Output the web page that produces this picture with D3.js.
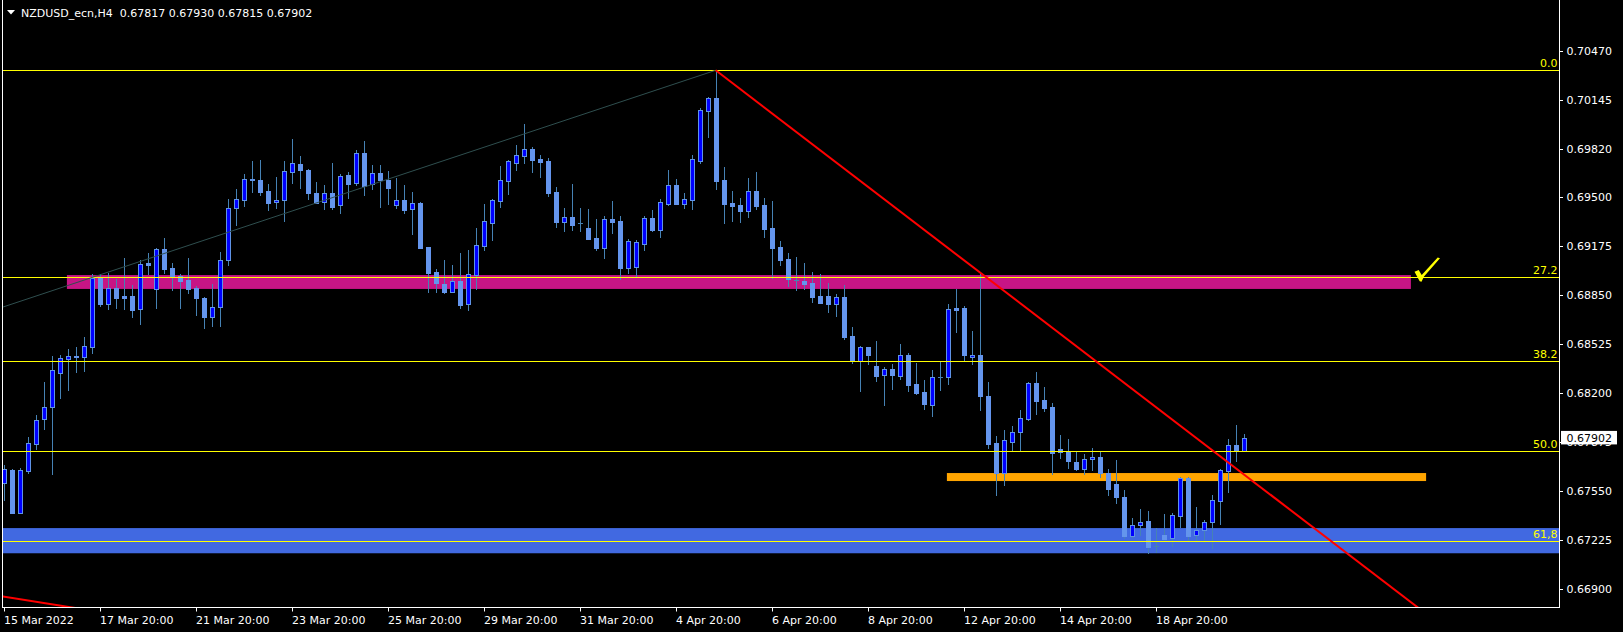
<!DOCTYPE html>
<html><head><meta charset="utf-8">
<script src="https://cdn.jsdelivr.net/npm/d3@7"></script>
<style>html,body{margin:0;padding:0;background:#000;overflow:hidden}svg{display:block}</style>
</head><body>
<svg id="c" width="1623" height="632"></svg>
<script>
// ---------------- DATA ----------------
const symbolTitle = "NZDUSD_ecn,H4";
const lastOHLC = ["0.67817", "0.67930", "0.67815", "0.67902"];
const currentPrice = 0.67902;

const opens = [0.67600,0.67689,0.67406,0.67684,0.67859,0.68025,0.68105,0.68334,0.68427,0.68443,
0.68441,0.68507,0.68960,0.68788,0.68894,0.68843,0.68843,0.68754,0.69060,0.68887,
0.69155,0.69029,0.68976,0.68949,0.68894,0.68830,0.68706,0.68768,0.69080,0.69429,
0.69482,0.69612,0.69612,0.69539,0.69464,0.69478,0.69668,0.69719,0.69679,0.69526,
0.69464,0.69526,0.69444,0.69646,0.69590,0.69791,0.69584,0.69659,0.69615,0.69449,
0.69480,0.69418,0.69460,0.69168,0.69002,0.68923,0.68872,0.68942,0.68788,0.68985,
0.69177,0.69329,0.69475,0.69608,0.69727,0.69771,0.69818,0.69752,0.69738,0.69533,
0.69334,0.69367,0.69325,0.69294,0.69228,0.69164,0.69354,0.69340,0.69031,0.69038,
0.69190,0.69360,0.69283,0.69455,0.69579,0.69455,0.69482,0.69741,0.70072,0.70156,
0.69612,0.69460,0.69447,0.69409,0.69539,0.69447,0.69294,0.69168,0.69088,0.68949,
0.68942,0.68929,0.68843,0.68843,0.68792,0.68836,0.68578,0.68410,0.68505,0.68379,
0.68322,0.68359,0.68315,0.68454,0.68259,0.68206,0.68122,0.68306,0.68308,0.68763,
0.68763,0.68441,0.68454,0.68180,0.67868,0.67667,0.67877,0.67939,0.68030,0.68266,
0.68153,0.68107,0.67826,0.67808,0.67742,0.67693,0.67760,0.67775,0.67671,0.67596,
0.67510,0.67254,0.67322,0.67351,0.67187,0.67258,0.67238,0.67386,0.67634,0.67256,
0.67291,0.67346,0.67486,0.67685,0.67853,0.67817];
const highs = [0.67722,0.67695,0.67702,0.67908,0.68054,0.68273,0.68445,0.68452,0.68491,0.68505,
0.68571,0.68987,0.68987,0.68996,0.68954,0.69095,0.68916,0.69080,0.69126,0.69161,
0.69228,0.69060,0.68989,0.69095,0.68909,0.68834,0.68923,0.69135,0.69486,0.69553,
0.69652,0.69738,0.69745,0.69586,0.69632,0.69738,0.69884,0.69772,0.69685,0.69599,
0.69577,0.69725,0.69652,0.69666,0.69811,0.69871,0.69712,0.69712,0.69672,0.69628,
0.69579,0.69533,0.69466,0.69168,0.69020,0.69082,0.69049,0.69128,0.69148,0.69294,
0.69453,0.69484,0.69705,0.69745,0.69845,0.69984,0.69831,0.69778,0.69756,0.69566,
0.69427,0.69586,0.69427,0.69420,0.69354,0.69374,0.69473,0.69374,0.69221,0.69214,
0.69374,0.69413,0.69486,0.69679,0.69619,0.69526,0.69778,0.70090,0.70163,0.70340,
0.69696,0.69539,0.69493,0.69626,0.69665,0.69493,0.69473,0.69208,0.69128,0.69102,
0.69062,0.69002,0.68989,0.68929,0.68856,0.68916,0.68637,0.68514,0.68505,0.68545,
0.68372,0.68392,0.68525,0.68465,0.68399,0.68286,0.68352,0.68407,0.68790,0.68889,
0.68777,0.68611,0.69002,0.68273,0.67915,0.67954,0.67981,0.68087,0.68273,0.68339,
0.68240,0.68133,0.67921,0.67895,0.67808,0.67795,0.67835,0.67808,0.67696,0.67755,
0.67556,0.67371,0.67430,0.67417,0.67302,0.67397,0.67404,0.67640,0.67640,0.67444,
0.67357,0.67523,0.67696,0.67895,0.67988,0.67930];
const lows = [0.67490,0.67401,0.67401,0.67667,0.67828,0.67963,0.67665,0.68169,0.68222,0.68341,
0.68348,0.68467,0.68779,0.68759,0.68766,0.68757,0.68706,0.68659,0.68989,0.68766,
0.68996,0.68885,0.68766,0.68865,0.68719,0.68633,0.68646,0.68646,0.69051,0.69314,
0.69442,0.69535,0.69513,0.69413,0.69429,0.69343,0.69595,0.69562,0.69486,0.69458,
0.69422,0.69418,0.69396,0.69495,0.69579,0.69515,0.69555,0.69436,0.69455,0.69429,
0.69396,0.69254,0.69160,0.68872,0.68872,0.68865,0.68867,0.68766,0.68752,0.68892,
0.69150,0.69214,0.69436,0.69522,0.69679,0.69725,0.69665,0.69632,0.69506,0.69301,
0.69274,0.69283,0.69274,0.69221,0.69148,0.69097,0.69261,0.68954,0.68998,0.68971,
0.69150,0.69274,0.69237,0.69447,0.69455,0.69427,0.69420,0.69727,0.69900,0.69555,
0.69327,0.69340,0.69334,0.69369,0.69422,0.69234,0.68965,0.69049,0.68911,0.68883,
0.68892,0.68805,0.68799,0.68739,0.68713,0.68560,0.68401,0.68215,0.68395,0.68281,
0.68122,0.68228,0.68295,0.68215,0.68195,0.68096,0.68049,0.68222,0.68262,0.68606,
0.68414,0.68395,0.68089,0.67837,0.67525,0.67592,0.67822,0.67824,0.68021,0.68063,
0.68083,0.67665,0.67771,0.67705,0.67691,0.67665,0.67691,0.67645,0.67523,0.67472,
0.67240,0.67247,0.67258,0.67139,0.67147,0.67225,0.67187,0.67313,0.67218,0.67214,
0.67214,0.67174,0.67333,0.67545,0.67749,0.67815];
const closes = [0.67693,0.67406,0.67689,0.67866,0.68018,0.68105,0.68350,0.68430,0.68443,0.68441,
0.68509,0.68960,0.68792,0.68894,0.68832,0.68832,0.68750,0.69053,0.69051,0.69153,
0.69024,0.68971,0.68945,0.68892,0.68832,0.68706,0.68768,0.69080,0.69425,0.69484,
0.69617,0.69617,0.69535,0.69462,0.69478,0.69672,0.69723,0.69681,0.69528,0.69462,
0.69524,0.69436,0.69637,0.69588,0.69789,0.69573,0.69657,0.69612,0.69562,0.69480,
0.69413,0.69460,0.69164,0.68996,0.68931,0.68869,0.68942,0.68783,0.68987,0.69179,
0.69338,0.69477,0.69612,0.69738,0.69778,0.69816,0.69745,0.69732,0.69526,0.69334,
0.69367,0.69314,0.69325,0.69221,0.69161,0.69354,0.69334,0.69029,0.69208,0.69201,
0.69360,0.69281,0.69466,0.69579,0.69455,0.69486,0.69752,0.70077,0.70156,0.69608,
0.69455,0.69440,0.69407,0.69539,0.69440,0.69287,0.69161,0.69082,0.68954,0.68947,
0.68925,0.68839,0.68799,0.68792,0.68836,0.68573,0.68410,0.68505,0.68454,0.68315,
0.68359,0.68322,0.68454,0.68255,0.68202,0.68129,0.68306,0.68308,0.68757,0.68752,
0.68454,0.68454,0.68182,0.67864,0.67667,0.67886,0.67939,0.68032,0.68266,0.68149,
0.68102,0.67804,0.67806,0.67751,0.67698,0.67762,0.67773,0.67667,0.67565,0.67510,
0.67251,0.67322,0.67344,0.67178,0.67187,0.67231,0.67388,0.67634,0.67251,0.67289,
0.67342,0.67488,0.67687,0.67853,0.67815,0.67902];

const timeTickBars = [0, 12, 24, 36, 48, 60, 72, 84, 96, 108, 120, 132, 144];
const timeTickLabels = ["15 Mar 2022", "17 Mar 20:00", "21 Mar 20:00", "23 Mar 20:00", "25 Mar 20:00",
  "29 Mar 20:00", "31 Mar 20:00", "4 Apr 20:00", "6 Apr 20:00", "8 Apr 20:00",
  "12 Apr 20:00", "14 Apr 20:00", "18 Apr 20:00"];
const priceTicks = [0.70470, 0.70145, 0.69820, 0.69500, 0.69175, 0.68850, 0.68525,
  0.68200, 0.67875, 0.67550, 0.67225, 0.66900];

const fibHigh = 0.70340, fibLow = 0.65290;
const fibRatios = [0, 0.272, 0.382, 0.5, 0.618];
const fibLabels = ["0.0", "27.2", "38.2", "50.0", "61,8"];

// zones: [barFrom, barTo, priceTop, priceBottom]
const blueZone = [-2, 200, 0.67304, 0.67137];
const magentaZone = [7.9, 175.9, 0.68982, 0.68890];
const orangeZone = [117.9, 177.8, 0.67669, 0.67616];

// trend lines: [bar, price] pairs
const redTrend = [[89, 0.70340], [177, 0.66768]];
const redTrendOld = [[-5, 0.66892], [10, 0.66765]];
const grayTrend = [[-1, 0.68754], [89, 0.70340]];
const checkMark = [176.3, 0.68990];

// ---------------- DRAW ----------------
const svg = d3.select("#c");
const L = 2, R = 1559, B = 607.5, T = 0;
svg.append("rect").attr("width", 1623).attr("height", 632).attr("fill", "#000");

const x = d3.scaleLinear().domain([0, 155]).range([3.7, 1243.7]);
const y = d3.scaleLinear().domain([0.66900, 0.70470]).range([589, 50.7]);

svg.append("defs").append("clipPath").attr("id", "plot")
  .append("rect").attr("x", L + 1).attr("y", T).attr("width", R - L - 1).attr("height", B - T);

const plot = svg.append("g").attr("clip-path", "url(#plot)");

function zone(z, color) {
  plot.append("rect")
    .attr("x", x(z[0])).attr("width", x(z[1]) - x(z[0]))
    .attr("y", y(z[2])).attr("height", y(z[3]) - y(z[2]))
    .attr("fill", color);
}
zone(blueZone, "#4169E1");
zone(magentaZone, "#C71585");
zone(orangeZone, "#FFA500");

// candles
const wickColor = "#4682B4";
const bullFill = "#0000FF", bullStroke = "#5F93E6";
const bearFill = "#6495ED";
const candles = d3.range(opens.length).map(i => ({i, o: opens[i], h: highs[i], l: lows[i], c: closes[i]}));
const cg = plot.append("g");
candles.forEach(d => {
  const px = Math.round(x(d.i));
  const yh = Math.round(y(d.h)), yl = Math.round(y(d.l));
  cg.append("line").attr("x1", px + 0.5).attr("x2", px + 0.5)
    .attr("y1", yh).attr("y2", yl + 1).attr("stroke", wickColor).attr("stroke-width", 1);
  const top = Math.round(y(Math.max(d.o, d.c))), bot = Math.round(y(Math.min(d.o, d.c)));
  if (bot - top < 1) {
    cg.append("line").attr("x1", px - 2).attr("x2", px + 3)
      .attr("y1", top + 0.5).attr("y2", top + 0.5).attr("stroke", wickColor);
  } else if (d.c > d.o) {
    cg.append("rect").attr("x", px - 1.5).attr("y", top + 0.5)
      .attr("width", 4).attr("height", bot - top)
      .attr("fill", bullFill).attr("stroke", bullStroke).attr("stroke-width", 1);
  } else {
    cg.append("rect").attr("x", px - 2).attr("y", top)
      .attr("width", 5).attr("height", bot - top + 1)
      .attr("fill", bearFill);
  }
});

// fibo lines
fibRatios.forEach((r, k) => {
  const p = fibHigh - r * (fibHigh - fibLow);
  const yy = Math.round(y(p)) + 0.5;
  plot.append("line").attr("x1", L).attr("x2", R).attr("y1", yy).attr("y2", yy)
    .attr("stroke", "#FFFF00").attr("stroke-width", 1);
  svg.append("text").attr("x", R - 1.5).attr("y", yy - 3.5)
    .attr("text-anchor", "end").attr("fill", "#FFFF00")
    .attr("font-family", "DejaVu Sans, sans-serif").attr("font-size", 11)
    .text(fibLabels[k]);
});

// trend lines
const line = d3.line().x(d => x(d[0])).y(d => y(d[1]));
plot.append("path").attr("d", line(grayTrend)).attr("stroke", "#2F4F4F").attr("stroke-width", 1).attr("fill", "none");
plot.append("path").attr("d", line(redTrend)).attr("stroke", "#FF0000").attr("stroke-width", 2).attr("fill", "none");
plot.append("path").attr("d", line(redTrendOld)).attr("stroke", "#FF0000").attr("stroke-width", 2).attr("fill", "none");

// check mark
const cx0 = x(checkMark[0]), cy0 = y(checkMark[1]);
plot.append("path")
  .attr("transform", `translate(${cx0},${cy0})`)
  .attr("d", "M0.4,-2.2 L4.6,-3.9 L7.6,1.2 L23.6,-16.3 L25.9,-15.6 L9.9,2.6 L7.4,7.8 L5.6,7.3 Z")
  .attr("fill", "#FFFF00");

// frame
svg.append("line").attr("x1", L + 0.5).attr("x2", L + 0.5).attr("y1", 0).attr("y2", B + 0.5).attr("stroke", "#fff");
svg.append("line").attr("x1", R + 0.5).attr("x2", R + 0.5).attr("y1", 0).attr("y2", B + 0.5).attr("stroke", "#fff");
svg.append("line").attr("x1", L).attr("x2", R + 1).attr("y1", B).attr("y2", B).attr("stroke", "#fff");

// price axis
const fontFam = "DejaVu Sans, sans-serif";
priceTicks.forEach(p => {
  const yy = Math.round(y(p)) + 0.5;
  svg.append("line").attr("x1", R).attr("x2", R + 4).attr("y1", yy).attr("y2", yy).attr("stroke", "#fff");
  svg.append("text").attr("x", 1566.5).attr("y", yy).attr("dy", "0.36em")
    .attr("fill", "#fff").attr("font-family", fontFam).attr("font-size", 11)
    .text(p.toFixed(5));
});

// current price box
const cpy = y(currentPrice);
svg.append("rect").attr("x", 1561).attr("y", cpy - 7).attr("width", 56).attr("height", 13.5).attr("fill", "#fff");
svg.append("text").attr("x", 1566.5).attr("y", cpy).attr("dy", "0.36em")
  .attr("fill", "#000").attr("font-family", fontFam).attr("font-size", 11)
  .text(currentPrice.toFixed(5));

// time axis
timeTickBars.forEach((b, k) => {
  const xx = Math.round(x(b)) + 0.5;
  svg.append("line").attr("x1", xx).attr("x2", xx).attr("y1", B).attr("y2", B + 4).attr("stroke", "#fff");
  svg.append("text").attr("x", xx - 0.5).attr("y", 624)
    .attr("fill", "#fff").attr("font-family", fontFam).attr("font-size", 11)
    .text(timeTickLabels[k]);
});

// title
svg.append("path").attr("d", "M7,10 L15,10 L11,14.5 Z").attr("fill", "#fff");
svg.append("text").attr("x", 21).attr("y", 16.5)
  .attr("fill", "#fff").attr("font-family", fontFam).attr("font-size", 11)
  .attr("xml:space", "preserve")
  .text(symbolTitle + "  " + lastOHLC.join(" "));
</script>
</body></html>
